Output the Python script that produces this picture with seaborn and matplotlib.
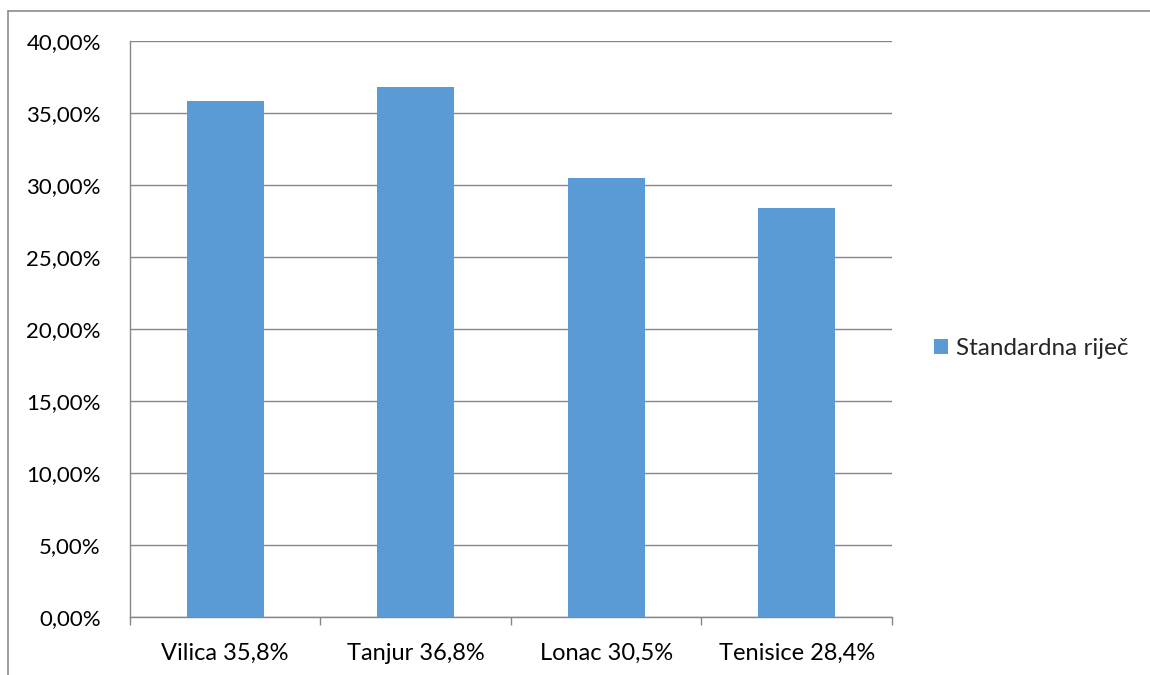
import matplotlib
matplotlib.use("Agg")
import matplotlib.pyplot as plt
import pandas as pd
import seaborn as sns
from matplotlib.lines import Line2D
from matplotlib.patches import Patch
from matplotlib.ticker import FuncFormatter, MultipleLocator

categories = ["Vilica 35,8%", "Tanjur 36,8%", "Lonac 30,5%", "Tenisice 28,4%"]
values = [0.358, 0.368, 0.305, 0.284]
series_name = "Standardna riječ"

sns.set_theme(style="white")
plt.rcParams["font.family"] = ["Lato", "DejaVu Sans"]

bar_color = "#5B9BD5"
grid_color = "#868686"

df = pd.DataFrame({"cat": categories, "val": values})

fig = plt.figure(figsize=(11.5, 6.75), dpi=100)
ax = fig.add_axes([0.11304, 0.08593, 0.66261, 0.85333])

sns.barplot(data=df, x="cat", y="val", color=bar_color, width=0.405,
            saturation=1, linewidth=0, edgecolor="none", ax=ax, zorder=3)

ax.set_ylim(0, 0.40)
ax.set_xlim(-0.5, len(categories) - 0.5)
ax.yaxis.set_major_locator(MultipleLocator(0.05))
ax.yaxis.set_major_formatter(FuncFormatter(lambda v, p: f"{v * 100:.2f}%".replace(".", ",")))
ax.grid(axis="y", color=grid_color, linewidth=1.0, zorder=0)
ax.set_axisbelow(True)

for s in ["top", "right"]:
    ax.spines[s].set_visible(False)
for s in ["left", "bottom"]:
    ax.spines[s].set_color(grid_color)
    ax.spines[s].set_linewidth(1.0)

ax.set_xlabel("")
ax.set_ylabel("")

# category ticks sit between the bars, like Excel
ax.set_xticks(list(range(len(categories))))
ax.set_xticklabels(categories)
ax.tick_params(axis="x", which="major", length=0, pad=31, labelsize=17, colors="black")
for lab in ax.get_xticklabels():
    lab.set_verticalalignment("baseline")
ax.set_xticks([i - 0.5 for i in range(len(categories) + 1)], minor=True)
ax.tick_params(axis="x", which="minor", bottom=True, length=6, color=grid_color,
               width=1.0, direction="out")
ax.tick_params(axis="y", length=6, color=grid_color, width=1.0, direction="out",
               pad=15, labelsize=16, colors="black")

handles = [Patch(facecolor=bar_color, edgecolor="none", label=series_name)]
fig.legend(handles=handles, loc="center left", bbox_to_anchor=(0.812, 0.484),
           frameon=False, fontsize=17.5, handlelength=0.6, handleheight=0.6,
           handletextpad=0.3, borderaxespad=0, borderpad=0)

# chart area border (top and left edges visible)
fig.add_artist(Line2D([0.007, 1.0], [0.9837, 0.9837], color="#8c8c8c", linewidth=1.2))
fig.add_artist(Line2D([0.007, 0.007], [0.0, 0.9837], color="#8c8c8c", linewidth=1.2))

fig.savefig("out.png", dpi=100)
